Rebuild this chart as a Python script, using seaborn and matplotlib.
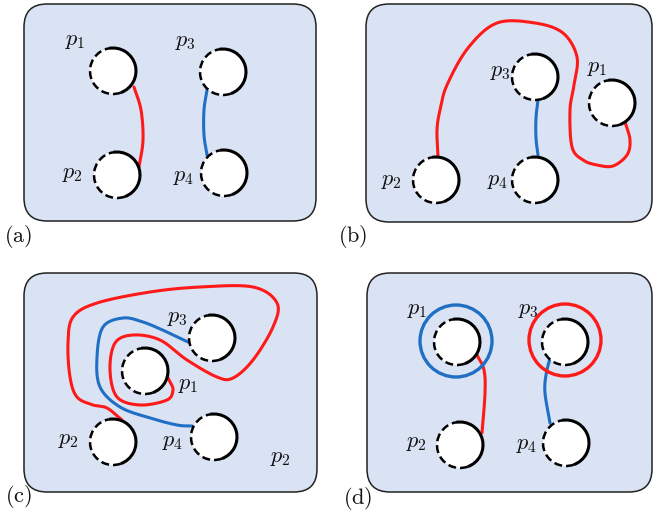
import numpy as np
import pandas as pd
import matplotlib
matplotlib.use("Agg")
import matplotlib.pyplot as plt
import seaborn as sns
from matplotlib.patches import FancyBboxPatch, Circle, Arc

# ---- diagram data (pixel coordinates of the 654x515 picture, y downwards) ----
panel_names = ["(a)", "(b)", "(c)", "(d)"]
panel_x0 = [24, 366, 24, 367]
panel_y0 = [4, 4, 273, 273]
panel_x1 = [316, 652, 317, 652]
panel_y1 = [221, 222, 492, 492]
panel_lab_x = [18, 353, 18, 358]
panel_lab_y = [236, 236, 497, 498]

# hole centres
hole_panel = [0, 0, 0, 0, 1, 1, 1, 1, 2, 2, 2, 2, 3, 3, 3, 3]
hole_name = ["p_1", "p_2", "p_3", "p_4"] * 4
hole_x = [113, 117, 223, 224, 612, 436, 535, 535, 145, 113, 212, 214, 457, 460, 565, 566]
hole_y = [71, 175, 72, 173, 103, 180, 77, 180, 371, 442, 338, 437, 342, 445, 342, 443]
hole_r = 23

# hole labels
label_x = [75, 72, 185, 184, 597, 391, 500, 498, 188, 68, 177, 173, 417, 416, 528, 527]
label_y = [41, 174, 42, 177, 68, 181, 72, 181, 385, 440, 318, 442, 310, 443, 310, 445]
extra_label = ("p_2", 280, 458)

# curves
curve_color = ["red", "blue", "red", "blue", "red", "blue", "red", "blue"]
curve_x = [
    [134, 141, 143, 139],
    [207, 204, 204, 207],
    [438, 437, 440, 447, 468, 497, 535, 563, 577, 574, 570, 572, 583, 597, 613, 627, 630, 625],
    [538, 536, 536, 538],
    [122, 107, 93, 77, 70, 68, 73, 97, 150, 200, 253, 277, 273, 253, 233, 217, 187, 160, 133,
     115, 110, 117, 140, 167, 173, 170, 168],
    [188, 167, 143, 123, 103, 97, 100, 120, 150, 177, 192],
    [477, 484, 485, 482],
    [550, 546, 545, 550],
]
curve_y = [
    [87, 110, 140, 167],
    [90, 110, 135, 155],
    [157, 130, 110, 85, 48, 23, 23, 33, 57, 85, 110, 147, 160, 165, 166, 155, 140, 122],
    [100, 118, 138, 155],
    [420, 408, 405, 397, 377, 343, 317, 303, 292, 287, 287, 303, 327, 360, 378, 377, 360, 340, 335,
     343, 370, 397, 405, 400, 390, 382, 378],
    [342, 332, 322, 318, 327, 357, 387, 407, 418, 425, 426],
    [355, 370, 393, 433],
    [358, 375, 393, 423],
]

# rings around holes in (d)
ring_x = [456, 565]
ring_y = [341, 340]
ring_r = 36
ring_color = ["blue", "red"]

colors = {"red": "#ff1a1a", "blue": "#1f6fc4"}
fill_col = "#dae3f3"


def catmull(px, py, n=24):
    p = np.column_stack([px, py]).astype(float)
    p = np.vstack([2 * p[0] - p[1], p, 2 * p[-1] - p[-2]])
    t = np.linspace(0, 1, n, endpoint=False)[:, None]
    out = []
    for i in range(1, len(p) - 2):
        p0, p1, p2, p3 = p[i - 1], p[i], p[i + 1], p[i + 2]
        seg = 0.5 * (2 * p1 + (-p0 + p2) * t + (2 * p0 - 5 * p1 + 4 * p2 - p3) * t ** 2
                     + (-p0 + 3 * p1 - 3 * p2 + p3) * t ** 3)
        out.append(seg)
    out.append(p[-2][None, :])
    return np.vstack(out)


sns.set_theme(style="white")
plt.rcParams["mathtext.fontset"] = "cm"

fig = plt.figure(figsize=(6.54, 5.15), dpi=100)
ax = fig.add_axes([0, 0, 1, 1])
ax.set_xlim(0, 654)
ax.set_ylim(515, 0)
ax.axis("off")

# panels
for i in range(4):
    box = FancyBboxPatch((panel_x0[i], panel_y0[i]), panel_x1[i] - panel_x0[i], panel_y1[i] - panel_y0[i],
                         boxstyle="round,pad=0,rounding_size=23", fc=fill_col, ec="#222222", lw=1.1, zorder=1)
    ax.add_patch(box)
    ax.text(panel_lab_x[i], panel_lab_y[i], r"$\mathrm{" + panel_names[i] + "}$", fontsize=16,
            ha="center", va="center", color="#111111")

# curves (drawn under the holes)
for cx, cy, cc in zip(curve_x, curve_y, curve_color):
    pts = catmull(cx, cy)
    df = pd.DataFrame({"x": pts[:, 0], "y": pts[:, 1]})
    sns.lineplot(data=df, x="x", y="y", sort=False, estimator=None, color=colors[cc],
                 lw=2.2, ax=ax, zorder=2)

# holes
for k in range(len(hole_x)):
    cx, cy = hole_x[k], hole_y[k]
    ax.add_patch(Circle((cx, cy), hole_r, fc="white", ec="none", zorder=3))
    ax.add_patch(Arc((cx, cy), 2 * hole_r, 2 * hole_r, theta1=-100, theta2=70,
                     color="black", lw=2.2, zorder=4))
    ax.add_patch(Arc((cx, cy), 2 * hole_r, 2 * hole_r, theta1=70, theta2=260,
                     color="black", lw=1.8, ls=(0, (3.2, 1.6)), zorder=4))
    ax.text(label_x[k], label_y[k], "$" + hole_name[k] + "$", fontsize=16,
            ha="center", va="center", color="#111111", zorder=5)

ax.text(extra_label[1], extra_label[2], "$" + extra_label[0] + "$", fontsize=16,
        ha="center", va="center", color="#111111", zorder=5)

# rings in (d)
for rx, ry, rc in zip(ring_x, ring_y, ring_color):
    ax.add_patch(Circle((rx, ry), ring_r, fc="none", ec=colors[rc], lw=2.4, zorder=5))

ax.set_xlabel("")
ax.set_ylabel("")
fig.savefig("out.png", dpi=100)
